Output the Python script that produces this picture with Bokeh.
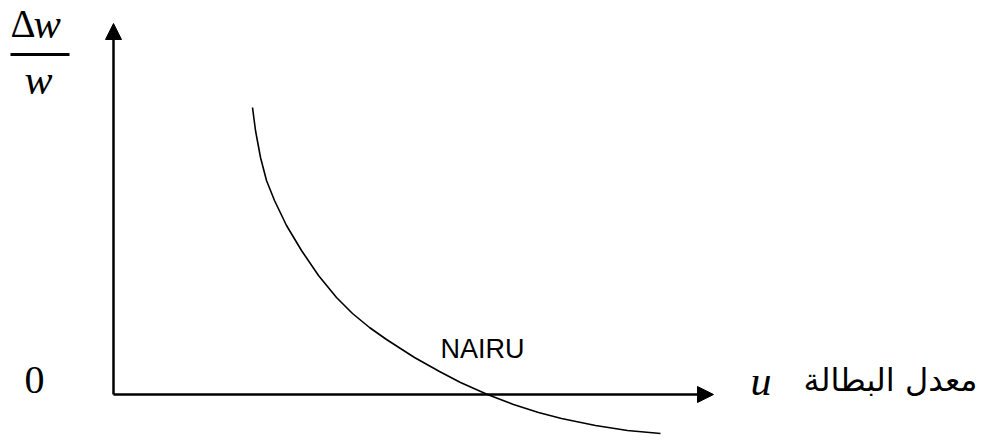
from bokeh.plotting import figure
from bokeh.models import Range1d, Arrow, NormalHead
from bokeh.core.properties import value
from bokeh.embed import file_html
from bokeh.resources import INLINE

# ---- data (unemployment u vs wage growth Δw/w, arbitrary units) ----
curve_u = [13.9, 14.2, 14.7, 15.3, 16.1, 17.3, 18.8, 20.5, 22.3, 23.9, 25.6,
           27.3, 30.1, 32.6, 34.7, 37.4, 40.0, 42.5, 44.8, 48.2, 51.4, 54.7]
curve_w = [28.7, 26.4, 23.7, 21.4, 19.4, 16.9, 14.4, 11.9, 9.7, 8.1, 6.7,
           5.5, 3.7, 2.3, 1.2, 0.0, -1.0, -1.8, -2.4, -3.1, -3.6, -3.9]
x_axis_end = 60.0
y_axis_end = 37.1
origin_label = "0"
x_label = "u"
x_label_ar = "معدل البطالة"
y_label_num = ("Δ", "w")
y_label_den = "w"
nairu_label = "NAIRU"

p = figure(width=982, height=440, output_backend="svg", toolbar_location=None,
           x_range=Range1d(-11.3, 86.9), y_range=Range1d(-4.6, 39.4),
           min_border=0, outline_line_color=None)
p.axis.visible = False
p.grid.visible = False
p.background_fill_color = "white"
p.border_fill_color = "white"

# axes as arrows
p.add_layout(Arrow(end=NormalHead(size=16, fill_color="black", line_color="black", line_width=1),
                   x_start=0, y_start=0, x_end=x_axis_end, y_end=0,
                   line_width=2.5, line_color="black"))
p.add_layout(Arrow(end=NormalHead(size=16, fill_color="black", line_color="black", line_width=1),
                   x_start=0, y_start=0, x_end=0, y_end=y_axis_end,
                   line_width=2.5, line_color="black"))

# Phillips curve
p.line(curve_u, curve_w, line_width=1.6, line_color="black", line_join="round")

serif = value("Liberation Serif")

# y label: Δw / w
p.text(x=[-10.3], y=[37.1], text=[y_label_num[0]], text_font=serif,
       text_font_size="39px", text_align="left", text_baseline="alphabetic", text_color="black")
p.text(x=[-8.0], y=[37.1], text=[y_label_num[1]], text_font=serif, text_font_style="italic",
       text_font_size="41px", text_align="left", text_baseline="alphabetic", text_color="black")
p.segment(x0=[-10.3], y0=[34.0], x1=[-4.4], y1=[34.0], line_width=3, line_color="black")
p.text(x=[-7.5], y=[31.5], text=[y_label_den], text_font=serif, text_font_style="italic",
       text_font_size="42px", text_align="center", text_baseline="alphabetic", text_color="black")

# origin
p.text(x=[-7.9], y=[1.5], text=[origin_label], text_font=serif,
       text_font_size="40px", text_align="center", text_baseline="alphabetic", text_color="black")

# x labels
p.text(x=[63.7], y=[1.4], text=[x_label], text_font=serif, text_font_style="italic",
       text_font_size="42px", text_align="left", text_baseline="alphabetic", text_color="black")
p.text(x=[86.4], y=[1.5], text=[x_label_ar], text_font=value("DejaVu Sans"),
       text_font_size="32px", text_align="right", text_baseline="alphabetic", text_color="black")

# NAIRU
p.text(x=[32.7], y=[4.6], text=[nairu_label], text_font=value("Liberation Sans"),
       text_font_size="27px", text_align="left", text_baseline="alphabetic", text_color="black")

open("out.html", "w").write(file_html(p, INLINE))
